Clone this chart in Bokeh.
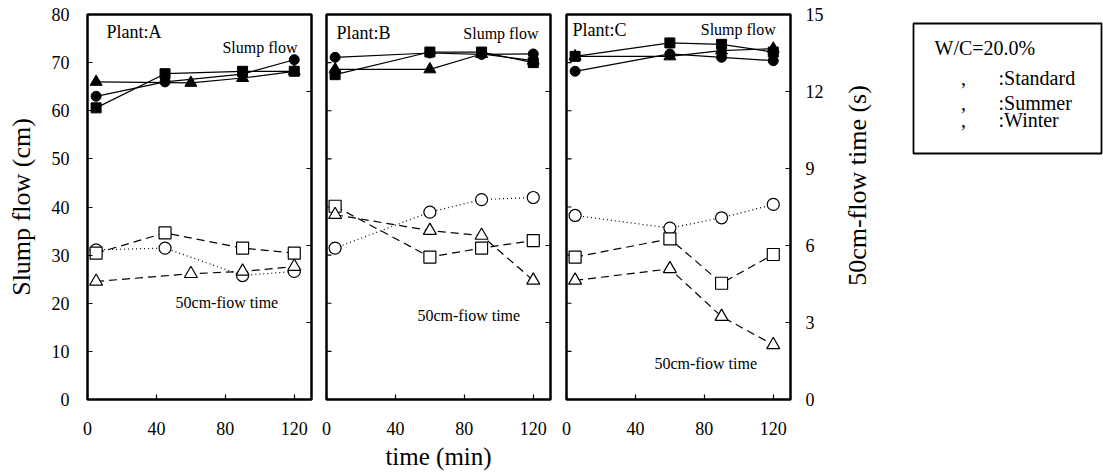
import math
from bokeh.plotting import figure
from bokeh.models import Range1d, LinearAxis, Label, FixedTicker
from bokeh.layouts import row
from bokeh.embed import file_html
from bokeh.resources import INLINE

FONT = "Liberation Serif"

# ---------------- data ----------------
# elapsed time (min)
t_A_std = [5, 45, 90, 120]
t_A_sum = [5, 45, 90, 120]
t_A_win = [5, 60, 90, 120]
t_BC = [5, 60, 90, 120]

# slump flow (cm)  -- filled markers
slump_A_std = [63.0, 66.0, 67.6, 70.6]
slump_A_sum = [60.6, 67.7, 68.2, 68.2]
slump_A_win = [66.0, 65.8, 66.8, 68.2]
slump_B_std = [71.1, 72.0, 71.7, 71.8]
slump_B_sum = [67.5, 72.2, 72.2, 70.0]
slump_B_win = [68.6, 68.6, 71.8, 70.4]
slump_C_std = [68.2, 71.8, 71.1, 70.4]
slump_C_sum = [71.3, 74.1, 73.8, 72.2]
slump_C_win = [71.3, 71.3, 72.5, 72.9]

# 50cm-flow time (s) -- open markers
flow_A_std = [5.83, 5.90, 4.83, 4.99]
flow_A_sum = [5.70, 6.49, 5.90, 5.70]
flow_A_win = [4.60, 4.90, 4.99, 5.18]
flow_B_std = [5.90, 7.30, 7.79, 7.87]
flow_B_sum = [7.53, 5.55, 5.90, 6.19]
flow_B_win = [7.20, 6.58, 6.39, 4.64]
flow_C_std = [7.17, 6.68, 7.08, 7.60]
flow_C_sum = [5.55, 6.26, 4.53, 5.65]
flow_C_win = [4.64, 5.09, 3.23, 2.13]

x_ticks = [0, 40, 80, 120]
slump_ticks = [0, 10, 20, 30, 40, 50, 60, 70, 80]
flow_ticks = [0, 3, 6, 9, 12, 15]

legend_title = "W/C=20.0%"
legend_items = [":Standard", ":Summer", ":Winter"]
right_title = "50cm-flow time (s)"

X_MAX = 130
Y_MAX = 80
FT_MAX = 15
TICK = 2.9  # inward tick length in x data units (~5 px)


def style_axis(ax):
    ax.major_tick_in = 5
    ax.major_tick_out = 0
    ax.minor_tick_line_color = None
    ax.axis_line_color = None
    ax.major_tick_line_color = "black"
    ax.major_tick_line_width = 1.2
    ax.major_label_text_font = FONT
    ax.major_label_text_font_size = "18px"
    ax.major_label_text_color = "black"
    ax.major_label_standoff = 15
    ax.axis_label_text_font = FONT
    ax.axis_label_text_font_style = "normal"
    ax.axis_label_text_color = "black"


def panel(name, series, left_lab, right_lab, xtitle, bl, br, text_pos):
    p = figure(frame_width=224, frame_height=385, min_border_left=bl,
               min_border_right=br, min_border_top=14, min_border_bottom=73,
               x_range=Range1d(0, X_MAX), y_range=Range1d(0, Y_MAX),
               y_axis_location="left" if left_lab else None,
               title=None, output_backend="svg", toolbar_location=None)
    p.extra_y_ranges = {"ft": Range1d(0, FT_MAX)}
    p.xgrid.visible = False
    p.ygrid.visible = False
    p.outline_line_color = "black"
    p.outline_line_width = 2.5
    p.background_fill_color = "white"
    p.border_fill_color = "white"

    xa = p.xaxis[0]
    xa.ticker = FixedTicker(ticks=x_ticks)
    style_axis(xa)
    xa.major_label_standoff = 22
    if xtitle:
        xa.axis_label = xtitle
        xa.axis_label_text_font_size = "25px"
        xa.axis_label_standoff = 5

    if left_lab:
        ya = p.yaxis[0]
        ya.ticker = FixedTicker(ticks=slump_ticks)
        style_axis(ya)
        ya.major_label_standoff = 18
        ya.axis_label = "Slump flow (cm)"
        ya.axis_label_text_font_size = "26px"
        ya.axis_label_standoff = 13
    else:
        p.segment(x0=[0] * len(slump_ticks), y0=slump_ticks,
                  x1=[TICK] * len(slump_ticks), y1=slump_ticks,
                  line_color="black", line_width=1.2)

    if right_lab:
        ra = LinearAxis(y_range_name="ft", ticker=FixedTicker(ticks=flow_ticks))
        style_axis(ra)
        p.add_layout(ra, "right")
    else:
        p.segment(x0=[X_MAX] * len(flow_ticks), y0=flow_ticks,
                  x1=[X_MAX - TICK] * len(flow_ticks), y1=flow_ticks,
                  y_range_name="ft", line_color="black", line_width=1.2)

    markers = ["circle", "square", "triangle"]
    dashes = ["1 3", "8 5", "8 5"]
    for (t, s, f), mk, dsh in zip(series, markers, dashes):
        p.line(t, s, line_color="black", line_width=1.2)
        p.scatter(t, s, marker=mk, size=10 if mk != "triangle" else 12,
                  fill_color="black", line_color="black")
        p.line(t, f, y_range_name="ft", line_color="black", line_width=1.2,
               line_dash=dsh)
        p.scatter(t, f, y_range_name="ft", marker=mk,
                  size=12 if mk != "triangle" else 13,
                  fill_color="white", line_color="black", line_width=1.2)

    (px, py), (sx, sy), (fx, fy) = text_pos
    p.add_layout(Label(x=px, y=py, text="Plant:" + name, text_font=FONT,
                       text_font_size="18px", text_baseline="middle",
                       text_align="left", text_color="black"))
    p.add_layout(Label(x=sx, y=sy, text="Slump flow", text_font=FONT,
                       text_font_size="16px", text_baseline="middle",
                       text_align="right", text_color="black"))
    p.add_layout(Label(x=fx, y=fy, text="50cm-fiow time", text_font=FONT,
                       text_font_size="16px", text_baseline="middle",
                       text_align="left", text_color="black"))
    return p


pA = panel("A",
           [(t_A_std, slump_A_std, flow_A_std),
            (t_A_sum, slump_A_sum, flow_A_sum),
            (t_A_win, slump_A_win, flow_A_win)],
           True, False, None, 87, 7,
           [(11.0, 76.3), (121.9, 73.1), (51.1, 20.2)])
pB = panel("B",
           [(t_BC, slump_B_std, flow_B_std),
            (t_BC, slump_B_sum, flow_B_sum),
            (t_BC, slump_B_win, flow_B_win)],
           False, False, "time (min)", 8, 8,
           [(5.8, 76.1), (123.0, 76.1), (52.8, 17.5)])
pC = panel("C",
           [(t_BC, slump_C_std, flow_C_std),
            (t_BC, slump_C_sum, flow_C_sum),
            (t_BC, slump_C_win, flow_C_win)],
           False, True, None, 8, 40,
           [(3.5, 76.7), (121.5, 76.9), (51.0, 7.5)])

# right-hand strip: right-axis title and the legend box
# (data units of this strip = pixels from its frame's lower-left corner)
pL = figure(frame_width=273, frame_height=385, min_border_left=0,
            min_border_right=0, min_border_top=14, min_border_bottom=73,
            x_range=Range1d(0, 273), y_range=Range1d(0, 385),
            x_axis_type=None, y_axis_type=None, title=None,
            output_backend="svg", toolbar_location=None)
pL.xgrid.visible = False
pL.ygrid.visible = False
pL.outline_line_color = None
pL.background_fill_color = "white"
pL.border_fill_color = "white"

pL.add_layout(Label(x=27, y=214, text=right_title, angle=math.pi / 2,
                    text_font=FONT, text_font_size="26px",
                    text_align="center", text_baseline="middle",
                    text_color="black"))

pL.quad(left=[83], right=[271], bottom=[246], top=[376],
        fill_color="white", line_color="black", line_width=1.8)
pL.add_layout(Label(x=104, y=352, text=legend_title, text_font=FONT,
                    text_font_size="20px", text_baseline="middle",
                    text_color="black"))
for lab, yy in zip(legend_items, [322, 297, 280]):
    pL.add_layout(Label(x=133, y=yy, text=",", text_font=FONT,
                        text_font_size="20px", text_baseline="middle",
                        text_align="center", text_color="black"))
    pL.add_layout(Label(x=168, y=yy, text=lab, text_font=FONT,
                        text_font_size="20px", text_baseline="middle",
                        text_color="black"))

layout = row(pA, pB, pC, pL)
open("out.html", "w").write(file_html(layout, INLINE))
